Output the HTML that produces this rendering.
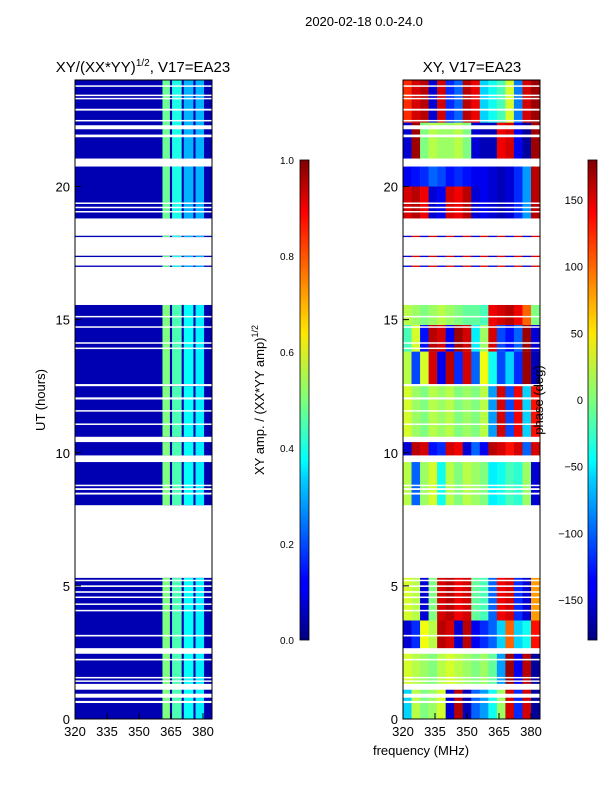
<!DOCTYPE html>
<html><head><meta charset="utf-8"><style>
body{margin:0;background:#fff;font-family:"Liberation Sans",sans-serif}
svg text{font-family:"Liberation Sans",sans-serif;fill:#000}
</style></head><body>
<svg id="fig" width="600" height="800" xmlns="http://www.w3.org/2000/svg">
<defs>
<linearGradient id="jet" x1="0" y1="1" x2="0" y2="0">
<stop offset="0" stop-color="#00007f"/><stop offset="0.11" stop-color="#0000ff"/><stop offset="0.125" stop-color="#0000ff"/><stop offset="0.34" stop-color="#00d4ff"/><stop offset="0.375" stop-color="#0ff"/><stop offset="0.5" stop-color="#7dff7a"/><stop offset="0.64" stop-color="#ffe600"/><stop offset="0.66" stop-color="#ffd600"/><stop offset="0.89" stop-color="#ff0000"/><stop offset="1" stop-color="#7f0000"/>
</linearGradient>
</defs>
<text x="364" y="26" font-size="13" text-anchor="middle">2020-02-18 0.0-24.0</text>
<text x="143" y="72" font-size="15" text-anchor="middle">XY/(XX*YY)<tspan font-size="10" dy="-6">1/2</tspan><tspan dy="6">, V17=EA23</tspan></text>
<text x="472" y="72" font-size="15" text-anchor="middle">XY, V17=EA23</text>
<g id="left"></g>
<g id="right"></g>
<rect x="75" y="80" width="137" height="639" fill="none" stroke="#000"/>
<rect x="403" y="80" width="137" height="639" fill="none" stroke="#000"/>
<g id="axes"></g>
<text transform="translate(45,400) rotate(-90)" font-size="13" text-anchor="middle">UT (hours)</text>
<text x="421" y="755" font-size="13" text-anchor="middle">frequency (MHz)</text>
<rect x="300" y="160" width="9" height="480" fill="url(#jet)" stroke="#000" stroke-width="0.8"/>
<rect x="588" y="160" width="9" height="480" fill="url(#jet)" stroke="#000" stroke-width="0.8"/>
<text transform="translate(264,400) rotate(-90)" font-size="13" text-anchor="middle">XY amp. / (XX*YY amp)<tspan font-size="9" dy="-6">1/2</tspan></text>
<text transform="translate(543,400) rotate(-90)" font-size="13" text-anchor="middle">phase (deg)</text>
</svg>
<script>
const validBlocks=[[0,5.3],[8.03,9.65],[9.9,10.4],[10.6,12.5],[12.58,15.55],[16.98,17.03],[17.35,17.4],[18.1,18.15],[18.8,20.75],[21.05,24]];
const gapLines=[[0.6,0.68],[0.8,0.95],[1.1,1.32],[1.4,1.45],[1.55,1.58],[2.2,2.26],[2.45,2.66],[3.1,3.16],[4.05,4.1],[4.3,4.34],[4.56,4.6],[4.74,4.8],[4.96,5.02],[5.2,5.23],[8.43,8.5],[8.6,8.67],[8.75,8.8],[11.05,11.1],[11.55,11.6],[12.0,12.08],[13.9,13.95],[14.1,14.15],[14.7,14.75],[15.1,15.14],[19.04,19.08],[19.2,19.24],[19.36,19.4],[21.85,21.95],[22.15,22.3],[22.45,22.5],[22.85,22.92],[23.28,23.33],[23.4,23.45],[23.75,23.8]];
const ampBands=[[361,364.5],[365.5,370],[371,375.5],[376.5,380.5]];
const ampUpper=[0.48,0.4,0.3,0.3];
const ampLower=[0.5,0.45,0.38,0.36];
const ampBackground=0.05;
const phaseBands=[[0,1.2],[1.2,2.5],[2.5,3.7],[3.7,5.3],[8,9.7],[9.8,10.5],[10.5,12.5],[12.5,13.8],[13.8,14.8],[14.8,15.6],[16.9,18.2],[18.8,20],[20,20.8],[21,22.4],[22.4,24]];
const phaseProfiles=[
[-60,20,0,10,30,-150,160,-160,-100,-80,-40,10,150,-120,150,-170],
[30,20,10,0,20,30,20,10,0,10,-10,-80,170,-140,160,-170],
[-150,-120,40,20,160,150,-150,160,-140,-120,-100,-60,100,-60,-40,130],
[30,20,-150,0,150,160,140,150,-10,-20,-100,140,150,-120,-150,80],
[20,-100,10,30,-40,20,0,20,10,0,-50,-40,-20,-30,10,-150],
[-150,160,150,-130,-120,150,140,-150,-100,-140,160,150,130,150,-100,150],
[30,10,0,20,10,20,0,10,0,20,-80,150,-110,140,-60,130],
[20,-110,30,150,-140,160,-120,150,-100,40,-40,-110,-60,-120,170,-160],
[-20,30,-130,160,150,-140,170,150,-50,10,150,-110,-130,-100,170,-150],
[20,10,0,10,20,10,0,-10,-10,-20,140,150,160,140,100,0],
[-150,150,-150,150,-150,150,-150,150,-150,150,-150,150,-150,150,-150,150],
[150,160,140,-150,-140,150,140,160,-150,-140,-150,-160,-150,-120,-80,160],
[-140,-130,-120,-100,-110,-130,-120,-130,-140,-140,-150,-160,-150,-120,-80,160],
[-150,170,0,20,10,10,20,0,-150,-160,-160,140,150,-140,-170,170],
[120,150,160,-150,150,-120,-100,160,140,-60,-40,-20,30,-90,150,170]];
const xTicks=[320,335,350,365,380];
const yTicks=[0,5,10,15,20];
const ampTicks=[0.0,0.2,0.4,0.6,0.8,1.0];
const phaseTicks=[-150,-100,-50,0,50,100,150];

const NS='http://www.w3.org/2000/svg';
function yH(h){return 719-h*26.625;}
function xL(f){return 75+(f-320)*2.1333;}
function xR(f){return 403+(f-320)*2.1333;}
function jet(v){v=Math.max(0,Math.min(1,v));
 const c=x=>Math.max(0,Math.min(1,1.5-Math.abs(4*v-x)));
 return 'rgb('+Math.round(255*c(3))+','+Math.round(255*c(2))+','+Math.round(255*c(1))+')';}
function mk(tag,attrs,parent){const e=document.createElementNS(NS,tag);for(const k in attrs)e.setAttribute(k,attrs[k]);parent.appendChild(e);return e;}
const L=document.getElementById('left'),R=document.getElementById('right'),A=document.getElementById('axes');
validBlocks.forEach((b,i)=>{
 const y0=yH(b[1]),y1=yH(b[0]);
 let r=mk('rect',{x:75,y:y0,width:137,height:y1-y0,fill:jet(ampBackground)},L);
 
 
 const prof=b[0]<13?ampLower:ampUpper;
 ampBands.forEach((ab,j)=>{
  let c=mk('rect',{x:xL(ab[0]),y:y0,width:xL(ab[1])-xL(ab[0]),height:y1-y0,fill:jet(prof[j])},L);
  
  
 });
 phaseBands.forEach((pb,k)=>{
  const lo=Math.max(pb[0],b[0]),hi=Math.min(pb[1],b[1]);
  if(hi<=lo)return;
  const prof2=phaseProfiles[k];
  const w=(384-320)/prof2.length;
  prof2.forEach((p,j)=>{
   let c=mk('rect',{x:xR(320+j*w),y:yH(hi),width:xR(320+(j+1)*w)-xR(320+j*w)+0.3,height:yH(lo)-yH(hi),fill:jet((p+180)/360)},R);
   
   
  });
 });
});
gapLines.forEach(g=>{
 [75,403].forEach(x=>{
  let w=mk('rect',{x:x,y:yH(g[1]),width:137,height:Math.max(1.5,yH(g[0])-yH(g[1])),fill:'#fff'},x===75?L:R);
  
  
 });
});
xTicks.forEach(t=>{
 [[xL,75],[xR,403]].forEach(([fx,x0])=>{
  const x=fx(t);
  let l=mk('line',{x1:x,x2:x,y1:719,y2:713,stroke:'#000'},A);
  
  
  let tx=mk('text',{x:x,y:736,'font-size':13,'text-anchor':'middle'},A);tx.textContent=t;
  
  
 });
});
yTicks.forEach(t=>{
 [75,403].forEach(x0=>{
  const y=yH(t);
  let l=mk('line',{x1:x0,x2:x0+6,y1:y,y2:y,stroke:'#000'},A);
  
  
  let tx=mk('text',{x:x0-5,y:y+5,'font-size':13,'text-anchor':'end'},A);tx.textContent=t;
  
  
 });
});
ampTicks.forEach(t=>{
 const y=640-t*480;
 let tx=mk('text',{x:280,y:y+4,'font-size':10},A);tx.textContent=t.toFixed(1);
 
 
});
phaseTicks.forEach(t=>{
 const y=400-t*(480/360);
 let tx=mk('text',{x:583,y:y+4,'font-size':11,'text-anchor':'end'},A);tx.textContent=t<0?'\u2212'+(-t):t;
 
 
});
</script>
</body></html>
